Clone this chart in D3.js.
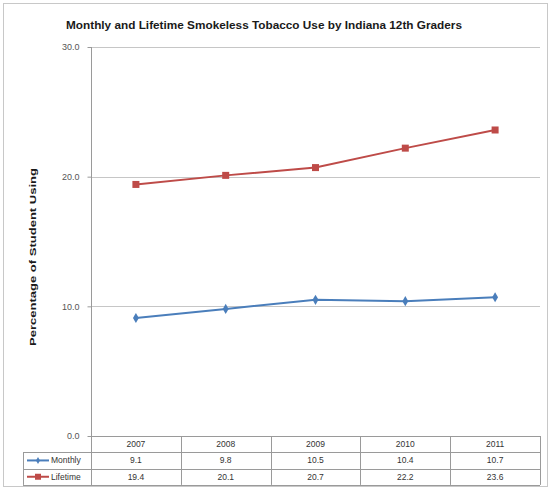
<!DOCTYPE html>
<html>
<head>
<meta charset="utf-8">
<script src="https://cdn.jsdelivr.net/npm/d3@7"></script>
<style>
  html, body { margin: 0; padding: 0; background: #fff; }
  svg { display: block; }
  text { font-family: "Liberation Sans", Arial, sans-serif; }
</style>
</head>
<body>
<svg id="chart" width="550" height="488"></svg>
<script>
// Smokeless tobacco use, Indiana 12th graders (percent)
const years = ["2007", "2008", "2009", "2010", "2011"];
const monthly = [9.1, 9.8, 10.5, 10.4, 10.7];
const lifetime = [19.4, 20.1, 20.7, 22.2, 23.6];
const yTicks = [0, 10, 20, 30];
const seriesNames = ["Monthly", "Lifetime"];
const seriesColors = ["#4a7ebb", "#be4b48"];

const W = 550, H = 488;
const plot = { left: 91, right: 540, top: 47, bottom: 436 };
const rowH = 16.3;
const legendLeft = 23;

const svg = d3.select("#chart");

// outer frame
svg.append("rect")
  .attr("x", 3.5).attr("y", 3.5)
  .attr("width", W - 6).attr("height", H - 5)
  .attr("fill", "#fff").attr("stroke", "#c8c8c8").attr("stroke-width", 1);

const x = d3.scaleBand().domain(years).range([plot.left, plot.right]).padding(0);
const y = d3.scaleLinear().domain([0, 30]).range([plot.bottom, plot.top]);
const cx = d => x(d) + x.bandwidth() / 2;

// title
svg.append("text")
  .attr("x", 264).attr("y", 29)
  .attr("text-anchor", "middle")
  .attr("font-size", 11.5).attr("font-weight", "bold").attr("fill", "#1a1a1a")
  .attr("textLength", 396).attr("lengthAdjust", "spacingAndGlyphs")
  .text("Monthly and Lifetime Smokeless Tobacco Use by Indiana 12th Graders");

// gridlines
svg.append("g")
  .selectAll("line")
  .data(yTicks.filter(t => t > 0))
  .join("line")
  .attr("x1", plot.left).attr("x2", plot.right)
  .attr("y1", d => Math.round(y(d)) + 0.5).attr("y2", d => Math.round(y(d)) + 0.5)
  .attr("stroke", "#c6c6c6").attr("stroke-width", 1);

// y axis
const yAxis = d3.axisLeft(y).tickValues(yTicks).tickFormat(d3.format(".1f")).tickSize(4).tickPadding(8);
const gy = svg.append("g").attr("transform", `translate(${plot.left + 0.5},0)`).call(yAxis);
gy.select(".domain").remove();
gy.selectAll(".tick line").attr("stroke", "#9a9a9a");
gy.selectAll(".tick text").attr("font-size", 9).attr("fill", "#555")
  .attr("font-family", "\"Liberation Sans\", Arial, sans-serif");
svg.append("line")
  .attr("x1", plot.left + 0.5).attr("x2", plot.left + 0.5)
  .attr("y1", plot.top).attr("y2", plot.bottom + rowH * 3)
  .attr("stroke", "#9a9a9a");

// y axis title
svg.append("text")
  .attr("transform", `translate(36,${257}) rotate(-90)`)
  .attr("text-anchor", "middle")
  .attr("font-size", 9).attr("font-weight", "bold").attr("fill", "#1a1a1a")
  .attr("textLength", 178).attr("lengthAdjust", "spacingAndGlyphs")
  .text("Percentage of Student Using");

// data table grid
const tbl = svg.append("g").attr("stroke", "#9a9a9a").attr("stroke-width", 1);
[0, 1, 2, 3].forEach(i => {
  const yy = Math.round(plot.bottom + i * rowH) + 0.5;
  tbl.append("line")
    .attr("x1", i === 0 ? plot.left : legendLeft).attr("x2", plot.right)
    .attr("y1", yy).attr("y2", yy);
});
years.concat(["end"]).forEach(yr => {
  const xx = Math.round(yr === "end" ? plot.right : x(yr)) + 0.5;
  tbl.append("line")
    .attr("x1", xx).attr("x2", xx)
    .attr("y1", plot.bottom).attr("y2", plot.bottom + rowH * 3);
});
tbl.append("line")
  .attr("x1", legendLeft + 0.5).attr("x2", legendLeft + 0.5)
  .attr("y1", plot.bottom + rowH).attr("y2", plot.bottom + rowH * 3);

// year headers
svg.append("g").selectAll("text")
  .data(years).join("text")
  .attr("x", d => cx(d)).attr("y", plot.bottom + rowH / 2 + 3)
  .attr("text-anchor", "middle").attr("font-size", 8.5).attr("fill", "#333")
  .text(d => d);

// table values and legend keys
[monthly, lifetime].forEach((vals, si) => {
  const rowY = plot.bottom + rowH * (si + 1) + rowH / 2;
  svg.append("g").selectAll("text")
    .data(vals).join("text")
    .attr("x", (d, i) => cx(years[i])).attr("y", rowY + 3)
    .attr("text-anchor", "middle").attr("font-size", 8.5).attr("fill", "#333")
    .text(d => d3.format(".1f")(d));
  const key = svg.append("g");
  key.append("line")
    .attr("x1", legendLeft + 4).attr("x2", legendLeft + 26)
    .attr("y1", rowY).attr("y2", rowY)
    .attr("stroke", seriesColors[si]).attr("stroke-width", 2);
  if (si === 0) {
    key.append("path")
      .attr("d", d3.symbol(d3.symbolDiamond, 14)())
      .attr("transform", `translate(${legendLeft + 15},${rowY})`)
      .attr("fill", seriesColors[si]);
  } else {
    key.append("rect")
      .attr("x", legendLeft + 12).attr("y", rowY - 3).attr("width", 6).attr("height", 6)
      .attr("fill", seriesColors[si]);
  }
  key.append("text")
    .attr("x", legendLeft + 28).attr("y", rowY + 3)
    .attr("font-size", 8.5).attr("fill", "#333")
    .text(seriesNames[si]);
});

// series lines
const line = d3.line().x((d, i) => cx(years[i])).y(d => y(d));
[monthly, lifetime].forEach((vals, si) => {
  svg.append("path")
    .datum(vals)
    .attr("d", line)
    .attr("fill", "none")
    .attr("stroke", seriesColors[si]).attr("stroke-width", 2);
});

// markers
svg.append("g").selectAll("path")
  .data(monthly).join("path")
  .attr("d", d3.symbol(d3.symbolDiamond, 30)())
  .attr("transform", (d, i) => `translate(${cx(years[i])},${y(d)})`)
  .attr("fill", seriesColors[0]);
svg.append("g").selectAll("rect")
  .data(lifetime).join("rect")
  .attr("x", (d, i) => cx(years[i]) - 3.5).attr("y", d => y(d) - 3.5)
  .attr("width", 7).attr("height", 7)
  .attr("fill", seriesColors[1]);
</script>
</body>
</html>
